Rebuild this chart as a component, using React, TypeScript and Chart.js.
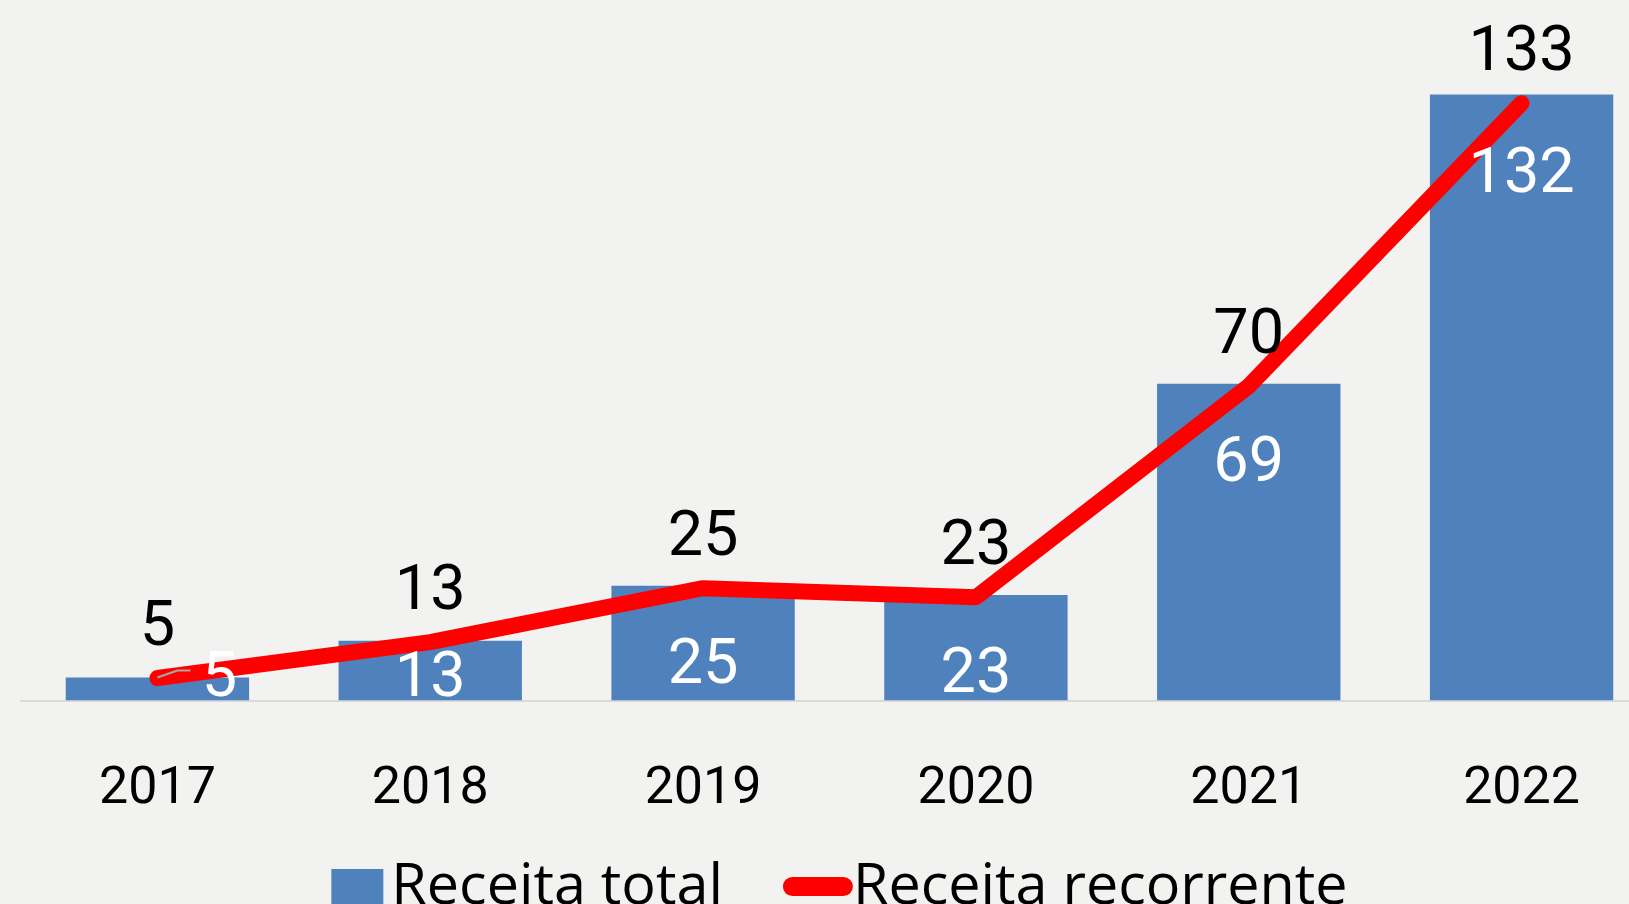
import React, { useEffect, useRef } from 'react';
import { Chart, registerables } from 'chart.js';

Chart.register(...registerables);

const categories = ['2017', '2018', '2019', '2020', '2021', '2022'];
const receitaTotal = [5, 13, 25, 23, 69, 132];
const receitaRecorrente = [5, 13, 25, 23, 70, 133];
const seriesNames = ['Receita total', 'Receita recorrente'];

const BAR_COLOR = '#4F81BD';
const LINE_COLOR = '#FF0000';
const BG = '#F2F2F1';
const DIGIT_FONT = 'Roboto, "Liberation Sans", sans-serif';
const TEXT_FONT = '"Open Sans", "Noto Sans", sans-serif';

const Y_MAX = 150;
const Y1_MAX = 153.3;
const CANVAS_W = 1700;
const CANVAS_H = 904;
const FIRST_LABEL_NUDGE = 62;

const labelPlugin = {
  id: 'customLabels',
  afterDatasetsDraw(chart: any) {
    const ctx = chart.ctx as CanvasRenderingContext2D;
    const barMeta = chart.getDatasetMeta(0);
    const lineMeta = chart.getDatasetMeta(1);
    ctx.save();

    // leader line of the moved first label
    const b0 = barMeta.data[0];
    ctx.strokeStyle = '#A6A6A6';
    ctx.lineWidth = 2;
    ctx.beginPath();
    ctx.moveTo(b0.x, b0.y);
    ctx.lineTo(b0.x + 20, b0.y - 7);
    ctx.lineTo(b0.x + 33, b0.y - 7);
    ctx.stroke();

    ctx.textAlign = 'center';
    ctx.textBaseline = 'alphabetic';
    ctx.font = `400 63px ${DIGIT_FONT}`;

    // bar labels (inside end)
    ctx.fillStyle = '#FFFFFF';
    barMeta.data.forEach((el: any, i: number) => {
      const yb = Math.min(el.y + 97, el.base - 5);
      const x = el.x + (i === 0 ? FIRST_LABEL_NUDGE : 0);
      ctx.fillText(String(receitaTotal[i]), x, yb);
    });

    // line labels (above)
    ctx.fillStyle = '#000000';
    lineMeta.data.forEach((pt: any, i: number) => {
      ctx.fillText(String(receitaRecorrente[i]), pt.x, pt.y - 33);
    });

    // legend
    const area = chart.chartArea;
    const cx = (area.left + area.right) / 2;
    ctx.font = `400 57.5px ${TEXT_FONT}`;
    ctx.textAlign = 'left';
    const w1 = ctx.measureText(seriesNames[0]).width;
    const w2 = ctx.measureText(seriesNames[1]).width;
    const box = 52;
    const boxGap = 8;
    const lineLen = 70;
    const itemGap = 60;
    const total = box + boxGap + w1 + itemGap + lineLen + w2;
    let x = cx - total / 2;
    const baseY = 904;
    ctx.fillStyle = BAR_COLOR;
    ctx.fillRect(x, 869, box, box);
    x += box + boxGap;
    ctx.fillStyle = '#000000';
    ctx.fillText(seriesNames[0], x, baseY);
    x += w1 + itemGap;
    ctx.strokeStyle = LINE_COLOR;
    ctx.lineWidth = 19;
    ctx.lineCap = 'round';
    ctx.beginPath();
    ctx.moveTo(x + 9.5, 886.5);
    ctx.lineTo(x + lineLen - 9.5, 886.5);
    ctx.stroke();
    x += lineLen;
    ctx.fillStyle = '#000000';
    ctx.fillText(seriesNames[1], x, baseY);

    ctx.restore();
  },
};

export default function App() {
  const canvasRef = useRef<HTMLCanvasElement | null>(null);

  useEffect(() => {
    if (!canvasRef.current) return;
    const chart = new Chart(canvasRef.current, {
      type: 'bar',
      data: {
        labels: categories,
        datasets: [
          {
            type: 'bar',
            label: seriesNames[0],
            data: receitaTotal,
            backgroundColor: BAR_COLOR,
            borderWidth: 0,
            categoryPercentage: 1,
            barPercentage: 0.672,
            yAxisID: 'y',
            order: 2,
          },
          {
            type: 'line',
            label: seriesNames[1],
            data: receitaRecorrente,
            borderColor: LINE_COLOR,
            backgroundColor: LINE_COLOR,
            borderWidth: 16,
            borderCapStyle: 'round',
            borderJoinStyle: 'round',
            pointRadius: 0,
            tension: 0,
            yAxisID: 'y1',
            order: 1,
          } as any,
        ],
      },
      options: {
        responsive: false,
        animation: false,
        devicePixelRatio: 1,
        layout: { padding: { left: 21, right: CANVAS_W - 1658, top: 12, bottom: 83.5 } },
        plugins: {
          legend: { display: false },
          tooltip: { enabled: false },
        },
        scales: {
          x: {
            grid: { display: false, drawTicks: false },
            border: { display: true, color: '#D9D9D9', width: 2 },
            ticks: {
              color: '#000000',
              font: { family: DIGIT_FONT, size: 52 },
              padding: 58,
              maxRotation: 0,
              autoSkip: false,
            },
            afterFit: (scale: any) => {
              scale.height = 120;
            },
          },
          y: { display: false, min: 0, max: Y_MAX },
          y1: { display: false, min: 0, max: Y1_MAX },
        },
      },
      plugins: [labelPlugin],
    });
    return () => chart.destroy();
  }, []);

  return (
    <div
      style={{
        position: 'fixed',
        left: 0,
        top: 0,
        width: 1629,
        height: 904,
        overflow: 'hidden',
        background: BG,
      }}
    >
      <canvas ref={canvasRef} width={CANVAS_W} height={CANVAS_H} style={{ display: 'block' }} />
    </div>
  );
}
